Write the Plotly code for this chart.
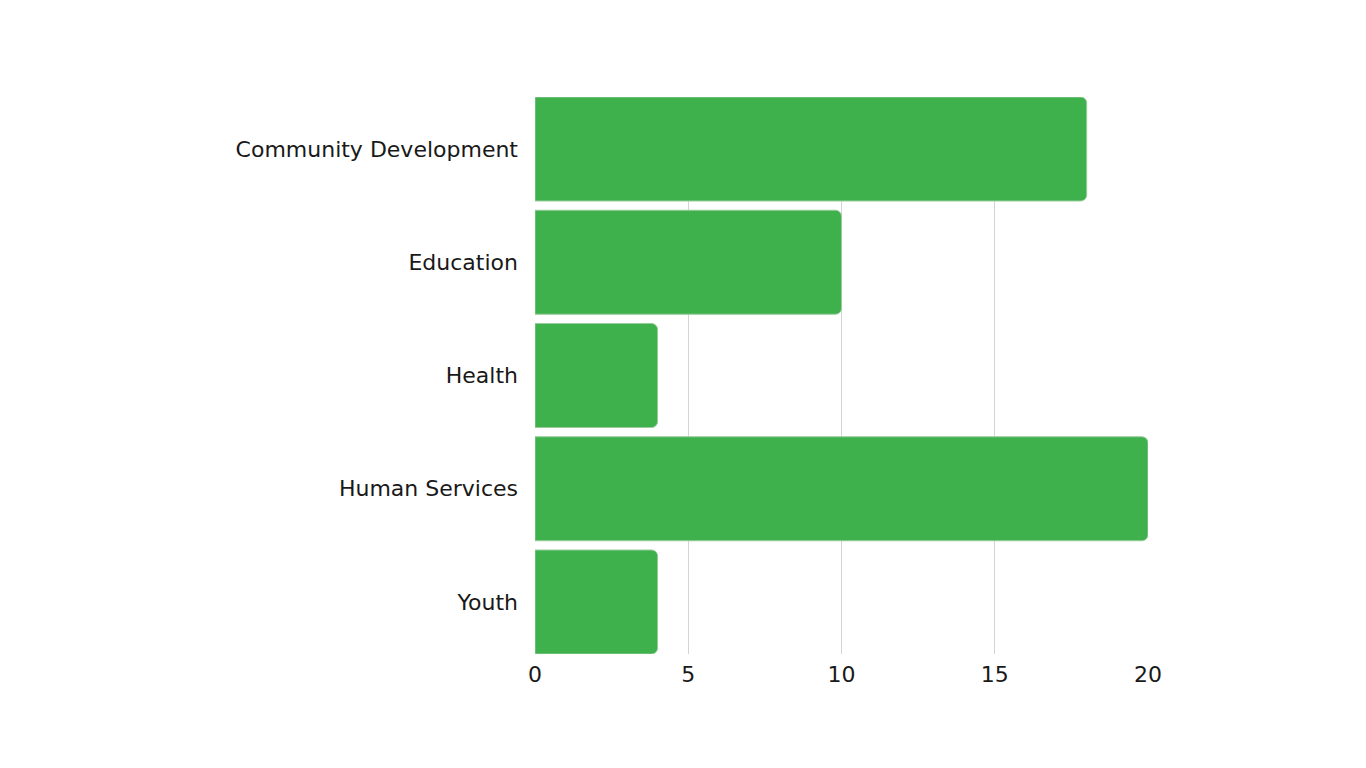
import plotly.graph_objects as go

categories = ['Community Development', 'Education', 'Health', 'Human Services', 'Youth']
values = [18, 10, 4, 20, 4]
tickVals = [0, 5, 10, 15, 20]

barColor = 'rgb(62,176,76)'
barGap = 0.082
half = (1 - barGap) / 2

fig = go.Figure()
fig.add_trace(go.Bar(
    x=values,
    y=categories,
    orientation='h',
    marker=dict(color=barColor, line=dict(color='rgba(150,205,155,1)', width=1)),
    hoverinfo='x+y',
))

fig.update_xaxes(
    range=[0, 20],
    tickvals=tickVals,
    showgrid=True, gridcolor='rgb(212,212,212)', gridwidth=1,
    zeroline=False, showline=False, ticks='',
    ticklabelstandoff=5,
    tickfont=dict(size=22, color='rgb(25,25,25)'),
)
# bars touch the top and bottom of the plot box, no half gap at the ends
fig.update_yaxes(
    categoryorder='array', categoryarray=categories,
    range=[len(categories) - 1 + half, -half],
    showgrid=False, zeroline=False, showline=False, ticks='',
    ticklabelstandoff=16,
    tickfont=dict(size=22, color='rgb(25,25,25)'),
)

# page body has an 8px margin, so the plot box is shifted back by 8px
fig.update_layout(
    width=1366, height=768,
    margin=dict(l=527, r=226, t=89, b=122, autoexpand=False),
    plot_bgcolor='white', paper_bgcolor='white',
    bargap=barGap,
    barcornerradius=6,
    showlegend=False,
    font=dict(family='DejaVu Sans, sans-serif', size=22),
)

fig.write_html('out.html')
